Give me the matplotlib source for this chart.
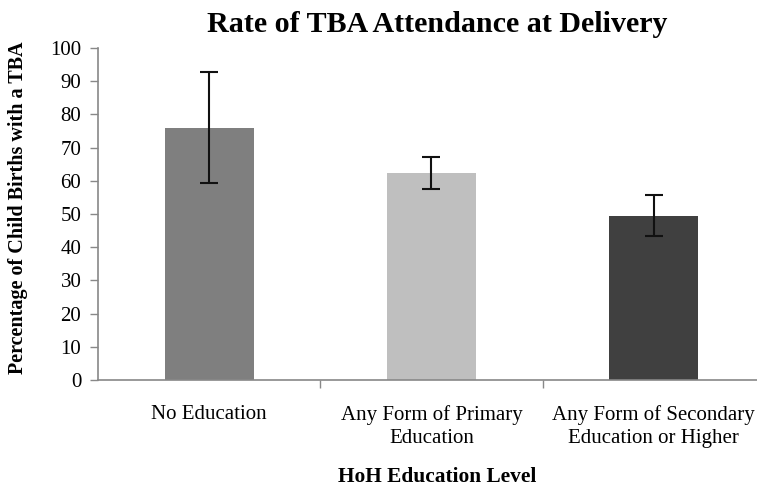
import matplotlib.pyplot as plt
import numpy as np

# Data
categories = ["No Education", "Any Form of Primary\nEducation", "Any Form of Secondary\nEducation or Higher"]
rates = [76.0, 62.3, 49.5]
errors = [16.7, 4.8, 6.2]
bar_colors = ["#7f7f7f", "#bfbfbf", "#404040"]
y_ticks = list(range(0, 101, 10))

plt.rcParams["font.family"] = ["Liberation Serif", "DejaVu Serif"]

fig = plt.figure(figsize=(7.57, 4.87), dpi=100)
ax = fig.add_axes([0.1295, 0.2197, 0.8705, 0.6817])

x = np.arange(len(categories))
ax.bar(x, rates, width=0.4, color=bar_colors, zorder=2)
ax.errorbar(x, rates, yerr=errors, fmt="none", ecolor="#111111",
            elinewidth=1.5, capsize=6.5, capthick=1.5, zorder=3)

ax.set_xlim(-0.5, 2.465)
ax.set_ylim(0, 100)
ax.set_yticks(y_ticks)
ax.tick_params(axis="y", labelsize=15, length=6, color="#888888", width=1, pad=6)

# category labels between boundary ticks, like Excel
ax.set_xticks([0.5, 1.5])
ax.set_xticklabels([])
ax.tick_params(axis="x", length=6, color="#888888", width=1)
for i, lab in enumerate(categories):
    ax.text(i, -7.6, lab, ha="center", va="top", fontsize=15,
            transform=ax.transData, linespacing=1.3)

for side in ["top", "right"]:
    ax.spines[side].set_visible(False)
for side in ["left", "bottom"]:
    ax.spines[side].set_color("#888888")
    ax.spines[side].set_linewidth(1.2)

ax.set_ylabel("Percentage of Child Births with a TBA", fontsize=14.5,
              fontweight="bold")
ax.yaxis.set_label_coords(-0.106, 0.52)
fig.text(0.577, 1 - 477 / 487, "HoH Education Level", ha="center", va="center",
         fontsize=15.4, fontweight="bold")
fig.text(0.577, 1 - 24 / 487, "Rate of TBA Attendance at Delivery", ha="center",
         va="center", fontsize=21.6, fontweight="bold")

fig.savefig("out.png", dpi=100)
